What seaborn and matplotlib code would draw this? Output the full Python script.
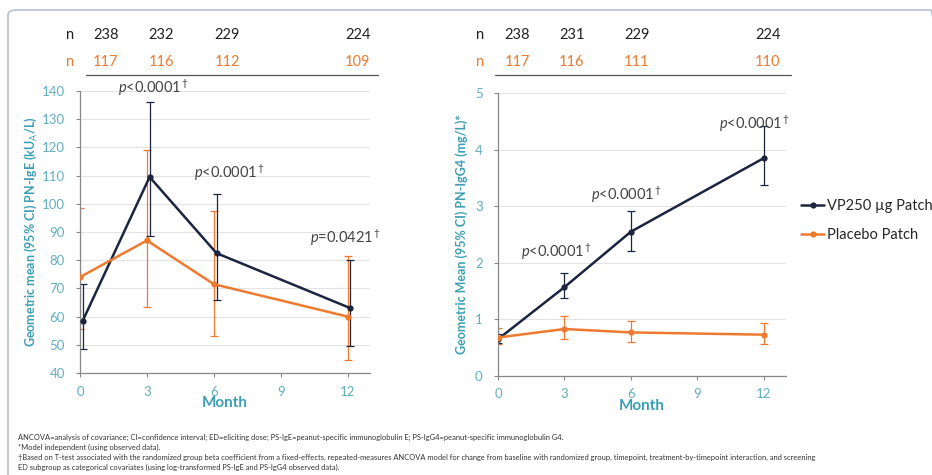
import numpy as np
import pandas as pd
import seaborn as sns
import matplotlib.pyplot as plt
from matplotlib.patches import FancyBboxPatch
from matplotlib.lines import Line2D
import matplotlib.transforms as mtransforms

# dados
meses = [0, 3, 6, 12]

ige_vp = [58.5, 109.5, 82.5, 63.0]
ige_vp_lo = [48.5, 88.5, 66.0, 49.5]
ige_vp_hi = [71.5, 136.0, 103.5, 80.0]
ige_pl = [74.0, 87.0, 71.5, 60.0]
ige_pl_lo = [55.5, 63.5, 53.0, 44.5]
ige_pl_hi = [98.5, 119.0, 97.5, 81.5]

igg_vp = [0.65, 1.57, 2.55, 3.85]
igg_vp_lo = [0.58, 1.38, 2.20, 3.38]
igg_vp_hi = [0.74, 1.82, 2.92, 4.42]
igg_pl = [0.68, 0.83, 0.77, 0.73]
igg_pl_lo = [0.57, 0.66, 0.60, 0.57]
igg_pl_hi = [0.85, 1.06, 0.98, 0.94]

n_ige_vp = ['238', '232', '229', '224']
n_ige_pl = ['117', '116', '112', '109']
n_igg_vp = ['238', '231', '229', '224']
n_igg_pl = ['117', '116', '111', '110']

p_ige = ['$p$<0.0001$^\\dagger$', '$p$<0.0001$^\\dagger$', '$p$=0.0421$^\\dagger$']
p_igg = ['$p$<0.0001$^\\dagger$', '$p$<0.0001$^\\dagger$', '$p$<0.0001$^\\dagger$']

grupos = ['VP250 µg Patch', 'Placebo Patch']
cores = {'VP250 µg Patch': '#1c2540', 'Placebo Patch': '#ee7a30'}
teal = '#3b9fb3'

sns.set_style('white')
plt.rcParams['font.family'] = ['Lato', 'DejaVu Sans']
plt.rcParams['mathtext.fontset'] = 'custom'
plt.rcParams['mathtext.rm'] = 'Lato'
plt.rcParams['mathtext.it'] = 'Lato:italic'

fig = plt.figure(figsize=(9.32, 4.75), dpi=100)

# moldura
fig.patches.append(FancyBboxPatch((8 / 932, -0.05), 1.0, 1.0 - 10 / 475 + 0.05,
                                  boxstyle='round,pad=0,rounding_size=0.01',
                                  transform=fig.transFigure, fill=False,
                                  edgecolor='#b4c1d0', linewidth=1.2))

ax1 = fig.add_axes([80 / 932, 102 / 475, 290 / 932, 282 / 475])
ax2 = fig.add_axes([498 / 932, 99 / 475, 288 / 932, 283 / 475])


def painel(ax, vp, vp_lo, vp_hi, pl, pl_lo, pl_hi, desloc):
    df = pd.DataFrame({
        'mes': np.r_[np.array(meses) + desloc, meses],
        'gm': np.r_[vp, pl],
        'grupo': [grupos[0]] * 4 + [grupos[1]] * 4,
    })
    sns.lineplot(data=df, x='mes', y='gm', hue='grupo', palette=cores,
                 marker='o', markersize=4.5, markeredgewidth=0, linewidth=1.8,
                 legend=False, ax=ax, zorder=3)
    for g, v, lo, hi, dx in [(grupos[1], pl, pl_lo, pl_hi, 0),
                              (grupos[0], vp, vp_lo, vp_hi, desloc)]:
        v = np.array(v)
        ax.errorbar(np.array(meses) + dx, v, yerr=[v - np.array(lo), np.array(hi) - v],
                    fmt='none', ecolor=cores[g], elinewidth=0.9, capsize=3,
                    capthick=0.9, zorder=2)
    ax.set_xlim(0, 13)
    ax.set_xticks([0, 3, 6, 9, 12])
    ax.grid(axis='y', color='#e3e3e3', linewidth=0.8)
    ax.set_axisbelow(True)
    for s in ['top', 'right']:
        ax.spines[s].set_visible(False)
    for s in ['left', 'bottom']:
        ax.spines[s].set_color('#888888')
        ax.spines[s].set_linewidth(0.9)
    ax.tick_params(axis='both', which='both', direction='out', length=3, width=0.8,
                   color='#888888', labelcolor='#62afc0', labelsize=9.5,
                   left=True, bottom=True)
    ax.tick_params(axis='y', pad=8)
    ax.tick_params(axis='x', pad=6)
    ax.set_xlabel('Month', color=teal, fontsize=11, fontweight='bold', labelpad=-1)


painel(ax1, ige_vp, ige_vp_lo, ige_vp_hi, ige_pl, ige_pl_lo, ige_pl_hi, 0.12)
ax1.set_ylim(40, 140)
ax1.set_yticks(range(40, 141, 10))
ax1.set_ylabel('Geometric mean (95% CI) PN-IgE (kU$_\\mathrm{A}$/L)', color=teal,
               fontsize=9, fontweight='bold', labelpad=2)

painel(ax2, igg_vp, igg_vp_lo, igg_vp_hi, igg_pl, igg_pl_lo, igg_pl_hi, 0.0)
ax2.set_ylim(0, 5)
ax2.set_yticks(range(0, 6))
ax2.set_ylabel('Geometric Mean (95% CI) PN-IgG4 (mg/L)*', color=teal,
               fontsize=9, fontweight='bold', labelpad=5)

# p-valores
for txt, (x, y) in zip(p_ige, [(3.3, 141), (6.7, 111), (11.9, 88)]):
    ax1.text(x, y, txt, ha='center', va='center', fontsize=10.5, color='#444444')
for txt, (x, y) in zip(p_igg, [(2.65, 2.2), (5.8, 3.2), (11.6, 4.45)]):
    ax2.text(x, y, txt, ha='center', va='center', fontsize=10.5, color='#444444')

# tabela de n
def tabela_n(ax, n_vp, n_pl, pos, pos_n, x0, x1):
    tr = mtransforms.blended_transform_factory(ax.transData, fig.transFigure)
    y_vp = 1 - 35 / 475
    y_pl = 1 - 62 / 475
    ax.text(pos_n, y_vp, 'n', transform=tr, ha='center', va='center', fontsize=10.5,
            color='#222222')
    ax.text(pos_n, y_pl, 'n', transform=tr, ha='center', va='center', fontsize=10.5,
            color='#ee7a30')
    for a, b, x in zip(n_vp, n_pl, pos):
        ax.text(x, y_vp, a, transform=tr, ha='center', va='center', fontsize=10.5,
                color='#222222')
        ax.text(x, y_pl, b, transform=tr, ha='center', va='center', fontsize=10.5,
                color='#ee7a30')
    fig.add_artist(Line2D([x0 / 932, x1 / 932], [1 - 75 / 475] * 2,
                          transform=fig.transFigure, color='#555555', linewidth=0.9))


tabela_n(ax1, n_ige_vp, n_ige_pl, [1.15, 3.65, 6.6, 12.45], -0.45, 86, 378)
tabela_n(ax2, n_igg_vp, n_igg_pl, [0.86, 3.34, 6.27, 12.18], -0.8, 495, 791)

# legenda
handles = [Line2D([], [], color=cores[g], marker='o', markersize=4.5,
                  markeredgewidth=0, linewidth=1.8) for g in grupos]
fig.legend(handles, grupos, loc='upper left', bbox_to_anchor=(801 / 932, 1 - 199 / 475),
           frameon=False, fontsize=10.5, handlelength=1.6, handletextpad=0.15,
           labelspacing=1.05, borderpad=0, borderaxespad=0)

# notas de rodape
notas = [
    'ANCOVA=analysis of covariance; CI=confidence interval; ED=eliciting dose; PS-IgE=peanut-specific immunoglobulin E; PS-IgG4=peanut-specific immunoglobulin G4.',
    '*Model independent (using observed data).',
    '\u2020Based on T-test associated with the randomized group beta coefficient from a fixed-effects, repeated-measures ANCOVA model for change from baseline with randomized group, timepoint, treatment-by-timepoint interaction, and screening',
    'ED subgroup as categorical covariates (using log-transformed PS-IgE and PS-IgG4 observed data).',
]
for i, t in enumerate(notas):
    fig.text(18 / 932, 1 - (437 + i * 10) / 475, t, fontsize=5.4, color='#333333',
             va='center', ha='left')

fig.savefig('out.png', dpi=100)
